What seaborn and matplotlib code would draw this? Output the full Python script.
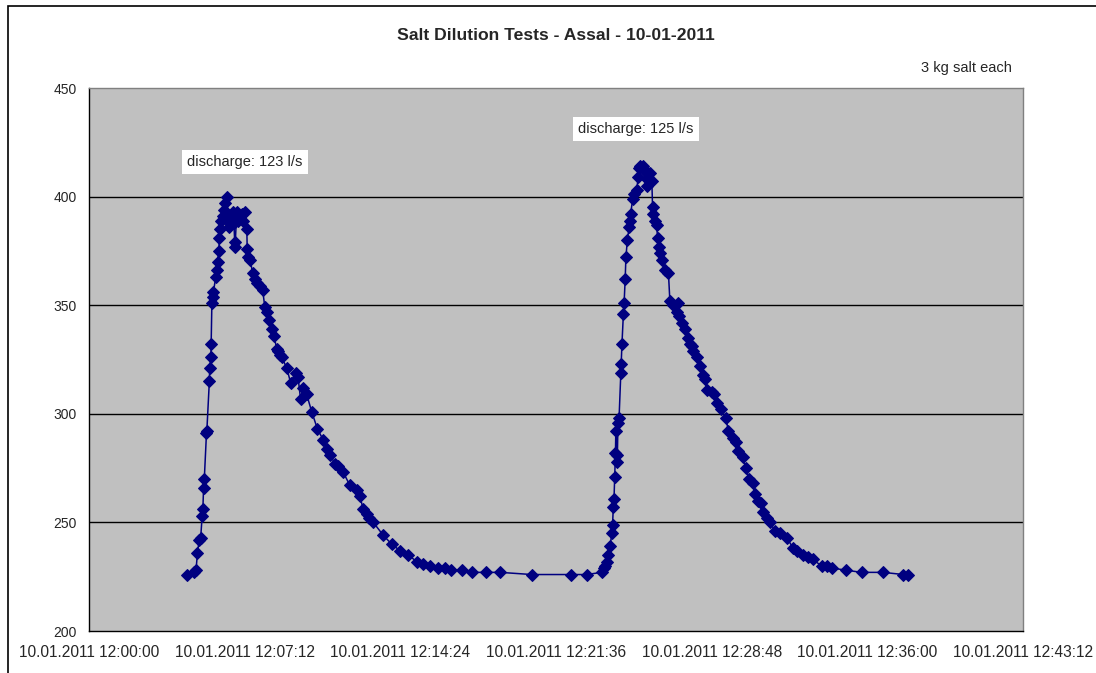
import pandas as pd
import matplotlib
matplotlib.use("Agg")
import matplotlib.pyplot as plt
import matplotlib.dates as mdates
import seaborn as sns
from matplotlib.patches import Rectangle

# readings (clock time on 10.01.2011, conductivity)
times = [
    "12:04:31", "12:04:51", "12:04:57", "12:05:01", "12:05:06", "12:05:10", "12:05:14",
    "12:05:16", "12:05:18", "12:05:20", "12:05:26", "12:05:27", "12:05:34", "12:05:35",
    "12:05:38", "12:05:39", "12:05:41", "12:05:43", "12:05:45", "12:05:52", "12:05:55",
    "12:05:57", "12:06:00", "12:06:02", "12:06:04", "12:06:06", "12:06:11", "12:06:15",
    "12:06:17", "12:06:22", "12:06:27", "12:06:29", "12:06:36", "12:06:40", "12:06:42",
    "12:06:45", "12:06:46", "12:06:50", "12:06:54", "12:06:59", "12:07:05", "12:07:08",
    "12:07:13", "12:07:18", "12:07:19", "12:07:22", "12:07:27", "12:07:34", "12:07:41",
    "12:07:47", "12:07:55", "12:08:02", "12:08:08", "12:08:13", "12:08:20", "12:08:27",
    "12:08:33", "12:08:41", "12:08:45", "12:08:50", "12:08:55", "12:09:09", "12:09:20",
    "12:09:34", "12:09:40", "12:09:47", "12:09:55", "12:10:04", "12:10:18", "12:10:34",
    "12:10:50", "12:11:00", "12:11:09", "12:11:23", "12:11:32", "12:11:46", "12:12:04",
    "12:12:23", "12:12:32", "12:12:41", "12:12:51", "12:12:58", "12:13:09", "12:13:37",
    "12:14:00", "12:14:23", "12:14:46", "12:15:09", "12:15:28", "12:15:46", "12:16:09",
    "12:16:28", "12:16:44", "12:17:14", "12:17:42", "12:18:22", "12:19:01", "12:20:29",
    "12:22:17", "12:23:01", "12:23:43", "12:23:49", "12:23:52", "12:23:57", "12:24:01",
    "12:24:06", "12:24:11", "12:24:13", "12:24:15", "12:24:17", "12:24:19", "12:24:21",
    "12:24:22", "12:24:24", "12:24:26", "12:24:28", "12:24:31", "12:24:36", "12:24:37",
    "12:24:39", "12:24:43", "12:24:45", "12:24:48", "12:24:50", "12:24:54", "12:24:59",
    "12:25:01", "12:25:03", "12:25:09", "12:25:12", "12:25:20", "12:25:24", "12:25:27",
    "12:25:29", "12:25:38", "12:25:43", "12:25:48", "12:25:49", "12:25:52", "12:25:57",
    "12:26:02", "12:26:04", "12:26:06", "12:26:11", "12:26:15", "12:26:18", "12:26:23",
    "12:26:25", "12:26:29", "12:26:39", "12:26:48", "12:26:52", "12:27:02", "12:27:11",
    "12:27:15", "12:27:18", "12:27:25", "12:27:34", "12:27:43", "12:27:48", "12:27:53",
    "12:27:57", "12:28:06", "12:28:16", "12:28:23", "12:28:30", "12:28:34", "12:28:48",
    "12:28:54", "12:29:02", "12:29:14", "12:29:28", "12:29:34", "12:29:46", "12:29:56",
    "12:30:02", "12:30:14", "12:30:23", "12:30:32", "12:30:42", "12:30:48", "12:30:57",
    "12:31:04", "12:31:10", "12:31:21", "12:31:30", "12:31:44", "12:31:58", "12:32:16",
    "12:32:35", "12:32:44", "12:33:01", "12:33:16", "12:33:28", "12:33:53", "12:34:07",
    "12:34:21", "12:35:01", "12:35:44", "12:36:44", "12:37:40", "12:37:54",
]
values = [
    226, 227, 228, 236, 242, 243, 253,
    256, 266, 270, 291, 292, 315, 321,
    326, 332, 351, 354, 356, 363, 366,
    370, 375, 381, 385, 389, 391, 394,
    397, 400, 389, 386, 391, 393, 388,
    377, 379, 393, 389, 391, 392, 389,
    393, 385, 376, 372, 371, 365, 362,
    360, 359, 357, 349, 347, 343, 339,
    336, 330, 329, 327, 326, 321, 314,
    319, 317, 307, 312, 309, 301, 293,
    288, 284, 281, 277, 276, 273, 267,
    265, 262, 256, 254, 252, 250, 244,
    240, 237, 235, 232, 231, 230, 229,
    229, 228, 228, 227, 227, 227, 226,
    226, 226, 227, 229, 230, 232, 235,
    239, 245, 249, 257, 261, 271, 282,
    292, 281, 278, 296, 298, 319, 323,
    332, 346, 351, 362, 372, 380, 386,
    389, 392, 399, 401, 403, 409, 413,
    414, 414, 412, 408, 405, 411, 411,
    407, 395, 392, 389, 387, 381, 377,
    374, 371, 366, 365, 352, 350, 347,
    351, 345, 342, 339, 335, 332, 331,
    329, 326, 322, 318, 316, 311, 310,
    309, 305, 302, 298, 292, 289, 287,
    283, 280, 275, 270, 268, 263, 260,
    259, 255, 252, 250, 246, 245, 243,
    238, 237, 235, 234, 233, 230, 230,
    229, 228, 227, 227, 226, 226,
]

title = "Salt Dilution Tests - Assal - 10-01-2011"
note = "3 kg salt each"
labels = ["discharge: 123 l/s", "discharge: 125 l/s"]
label_times = ["12:07:13", "12:25:18"]
label_values = [416, 431]

day = "2011-01-10 "
df = pd.DataFrame({"time": pd.to_datetime([day + t for t in times]), "value": values})

sns.set_style("white")
plt.rcParams["font.family"] = ["Liberation Sans", "DejaVu Sans"]

fig = plt.figure(figsize=(10.96, 6.73), dpi=100)
ax = fig.add_axes([0.0812, 0.0624, 0.8522, 0.8068])
ax.set_facecolor("#C0C0C0")

# chart frame (right and bottom edges fall outside the picture)
fig.patches.append(Rectangle((8 / 1096, -0.1), 1.2, 1.1 - 6 / 673, transform=fig.transFigure,
                             fill=False, edgecolor="black", linewidth=1.2))

sns.lineplot(data=df, x="time", y="value", ax=ax, estimator=None, color="#000080",
             marker="D", markersize=6, markeredgecolor="#000080", markerfacecolor="#000080",
             linewidth=1.1)

start = pd.Timestamp(day + "12:00:00")
step = pd.Timedelta(seconds=432)
ticks = [start + i * step for i in range(7)]
ax.set_xlim(ticks[0], ticks[-1])
ax.set_xticks(ticks)
ax.xaxis.set_major_formatter(mdates.DateFormatter("%d.%m.%Y %H:%M:%S"))
ax.set_ylim(200, 450)
ax.set_yticks(range(200, 451, 50))
for v in range(250, 450, 50):
    ax.axhline(v, color="black", linewidth=1, zorder=0.5)

ax.set_xlabel("")
ax.set_ylabel("")
ax.tick_params(axis="both", direction="out", length=5, width=1, color="black")
ax.tick_params(axis="x", labelsize=11.2, pad=5)
ax.tick_params(axis="y", labelsize=10, pad=4)
for lbl in ax.get_xticklabels():
    lbl.set_x(lbl.get_position()[0])
for side in ["left", "bottom"]:
    ax.spines[side].set_color("black")
for side in ["top", "right"]:
    ax.spines[side].set_color("#808080")
for s in ax.spines.values():
    s.set_linewidth(1)

for lab, t, v in zip(labels, label_times, label_values):
    ax.text(pd.Timestamp(day + t), v, lab, ha="center", va="center", fontsize=10.5,
            bbox=dict(boxstyle="square,pad=0.35", facecolor="white", edgecolor="none"))

fig.text(556 / 1096, 1 - 35 / 673, title, ha="center", va="center", fontsize=12.6,
         fontweight="bold")
fig.text(1012 / 1096, 1 - 68 / 673, note, ha="right", va="center", fontsize=10.5)

fig.savefig("out.png", dpi=100)
